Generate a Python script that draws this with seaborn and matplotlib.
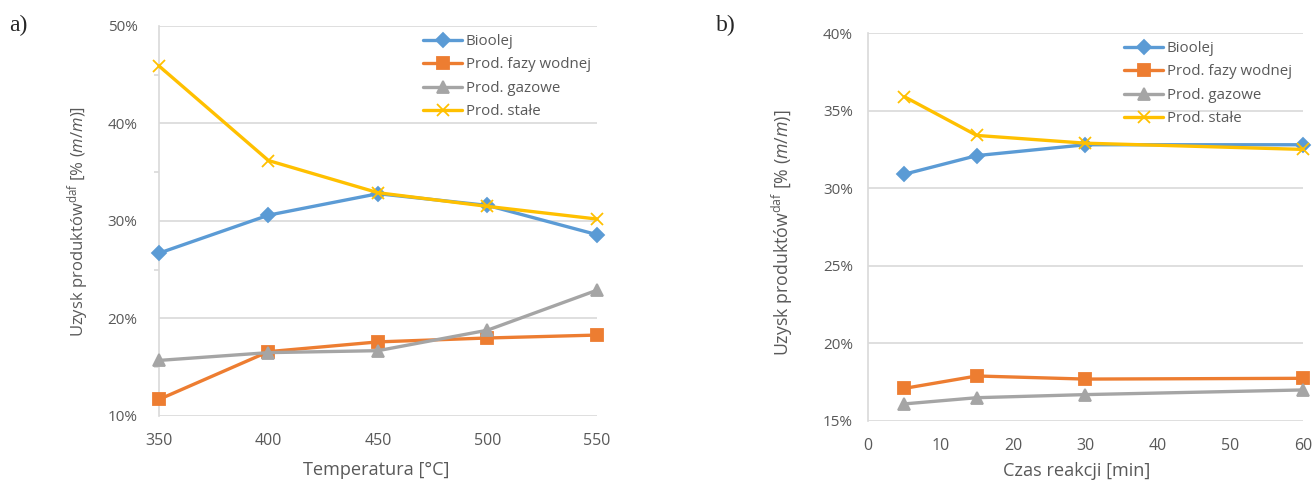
import seaborn as sns
import matplotlib.pyplot as plt
from matplotlib.ticker import PercentFormatter, MultipleLocator

# Data (values in %)
series = ['Bioolej', 'Prod. fazy wodnej', 'Prod. gazowe', 'Prod. stałe']

temp = [350, 400, 450, 500, 550]
temp_bioolej = [26.7, 30.6, 32.8, 31.6, 28.6]
temp_wodna = [11.7, 16.6, 17.6, 18.0, 18.3]
temp_gazowe = [15.7, 16.5, 16.7, 18.8, 22.9]
temp_stale = [45.9, 36.2, 32.9, 31.5, 30.2]

czas = [5, 15, 30, 60]
czas_bioolej = [30.9, 32.1, 32.8, 32.8]
czas_wodna = [17.1, 17.9, 17.7, 17.75]
czas_gazowe = [16.1, 16.5, 16.7, 17.0]
czas_stale = [35.9, 33.4, 32.9, 32.5]

colors = ['#5B9BD5', '#ED7D31', '#A5A5A5', '#FFC000']
markers = ['D', 's', '^', 'x']
msizes = [7, 8.5, 8.5, 9]

sns.set_style('white')
plt.rcParams['font.family'] = ['Open Sans', 'DejaVu Sans']
plt.rcParams['mathtext.fontset'] = 'custom'
plt.rcParams['mathtext.rm'] = 'Open Sans'
plt.rcParams['mathtext.it'] = 'Open Sans:italic'

fig = plt.figure(figsize=(13.14, 4.84), dpi=100)
ax1 = fig.add_axes([0.121, 0.1405, 0.3333, 0.8058])
ax2 = fig.add_axes([0.6606, 0.1302, 0.331, 0.8016])

grey_txt = '#595959'
grid_c = '#D9D9D9'
ylab = 'Uzysk produktów$^{\\mathrm{daf}}$ [% ($\\mathit{m/m}$)]'

panels = [(ax1, temp, [temp_bioolej, temp_wodna, temp_gazowe, temp_stale]),
          (ax2, czas, [czas_bioolej, czas_wodna, czas_gazowe, czas_stale])]

for ax, x, cols in panels:
    for name, vals, c, m, ms in zip(series, cols, colors, markers, msizes):
        sns.lineplot(x=x, y=vals, color=c, marker=m, markersize=ms,
                     markeredgecolor=c, markeredgewidth=1.3, linewidth=2.4,
                     label=name, ax=ax, clip_on=False, zorder=3)
    ax.yaxis.set_major_formatter(PercentFormatter(decimals=0))
    ax.grid(axis='y', color=grid_c, linewidth=1.2)
    ax.grid(axis='x', visible=False)
    for s in ['top', 'right', 'bottom']:
        ax.spines[s].set_visible(False)
    ax.spines['left'].set_color(grid_c)
    ax.spines['left'].set_linewidth(1.2)
    ax.tick_params(axis='x', colors=grey_txt, labelsize=11.5, length=0, pad=12)
    ax.tick_params(axis='y', colors=grey_txt, labelsize=11, length=0, pad=11)

#Left panel
ax1.set_xlim(350, 550)
ax1.set_ylim(10, 50)
ax1.set_xticks(temp)
ax1.yaxis.set_major_locator(MultipleLocator(10))
ax1.yaxis.set_minor_locator(MultipleLocator(5))
ax1.tick_params(axis='y', which='major', length=4.5, direction='out', color=grid_c, width=1.2)
ax1.tick_params(axis='y', which='minor', length=3.5, direction='out', color=grid_c, width=1.2, left=True)
ax1.set_xlabel('Temperatura [°C]', fontsize=13.1, color=grey_txt)
ax1.xaxis.set_label_coords(0.497, -0.115)
ax1.set_ylabel(ylab, fontsize=12, color=grey_txt)
ax1.yaxis.set_label_coords(-0.155, 0.5)
leg1 = ax1.legend(loc='upper left', bbox_to_anchor=(0.603, 0.98), frameon=False,
                  fontsize=10.8, handlelength=2.6, handletextpad=0.25,
                  labelspacing=0.57, borderaxespad=0, borderpad=0)

#Right panel
ax2.set_xlim(0, 60)
ax2.set_ylim(15, 40)
ax2.set_xticks(range(0, 61, 10))
ax2.yaxis.set_major_locator(MultipleLocator(5))
ax2.set_xlabel('Czas reakcji [min]', fontsize=13.1, color=grey_txt)
ax2.xaxis.set_label_coords(0.479, -0.105)
ax2.set_ylabel(ylab, fontsize=12.8, color=grey_txt)
ax2.yaxis.set_label_coords(-0.168, 0.485)
leg2 = ax2.legend(loc='upper left', bbox_to_anchor=(0.589, 0.98), frameon=False,
                  fontsize=10.8, handlelength=2.6, handletextpad=0.25,
                  labelspacing=0.57, borderaxespad=0, borderpad=0)

for leg in (leg1, leg2):
    for t in leg.get_texts():
        t.set_color(grey_txt)

fig.text(0.007, 0.935, 'a)', fontsize=17, family='Liberation Serif')
fig.text(0.545, 0.935, 'b)', fontsize=17, family='Liberation Serif')

fig.savefig('out.png', dpi=100)
